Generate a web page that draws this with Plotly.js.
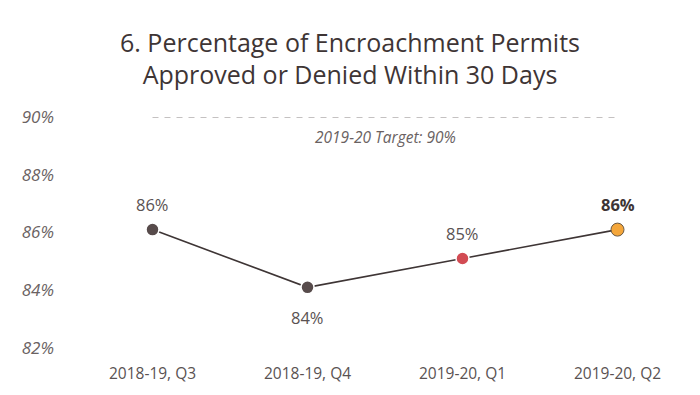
<!DOCTYPE html>
<html>
<head>
<meta charset="utf-8">
<script src="https://cdn.plot.ly/plotly-3.0.1.min.js"></script>
<style>html,body{margin:0;padding:0;background:#fff;}#chart{width:700px;height:395px;}</style>
</head>
<body>
<div id="chart"></div>
<script>
const quarters = ['2018-19, Q3', '2018-19, Q4', '2019-20, Q1', '2019-20, Q2'];
const percentApproved = [86.1, 84.1, 85.1, 86.1];
const targetValue = 90;
const targetLabel = '2019-20 Target: 90%';
const yTickValues = [82, 84, 86, 88, 90];
const yTickLabels = ['82%', '84%', '86%', '88%', '90%'];
const markerColors = ['#574b4b', '#574b4b', '#d24b53', '#f4a63a'];
const labelAbove = [true, false, true, true];

const FONT = '"Open Sans", "Noto Sans", sans-serif';

const traces = [
  {
    x: quarters,
    y: quarters.map(() => targetValue),
    type: 'scatter',
    mode: 'lines',
    line: {color: '#8a8484', width: 1, dash: '6px,6px'},
    hoverinfo: 'skip',
    showlegend: false
  },
  {
    x: quarters,
    y: percentApproved,
    type: 'scatter',
    mode: 'lines+markers',
    line: {color: '#3e3535', width: 1.6},
    marker: {
      size: 13,
      color: markerColors,
      line: {color: ['#ffffff', '#ffffff', '#ffffff', '#6b5a45'], width: [1.5, 1.5, 1.5, 1]}
    },
    cliponaxis: false,
    showlegend: false
  }
];

const dataLabels = percentApproved.map((v, i) => {
  const last = i === percentApproved.length - 1;
  const t = Math.round(v) + '%';
  return {
    x: quarters[i],
    y: v,
    xref: 'x',
    yref: 'y',
    text: last ? '<b>' + t + '</b>' : t,
    showarrow: false,
    yshift: labelAbove[i] ? 25 : -30,
    font: {family: FONT, size: 16.5, color: last ? '#3e3535' : '#5a5252'}
  };
});

const layout = {
  width: 700,
  height: 395,
  paper_bgcolor: '#ffffff',
  plot_bgcolor: '#ffffff',
  margin: {l: 75, r: 5, t: 117, b: 47},
  font: {family: FONT, color: '#5a5252'},
  title: {
    text: '6. Percentage of Encroachment Permits<br>Approved or Denied Within 30 Days',
    font: {family: FONT, size: 25, color: '#3e3535'},
    x: 0.5,
    xanchor: 'center',
    y: 0.869,
    yanchor: 'middle'
  },
  xaxis: {
    type: 'category',
    range: [-0.5, 3.5],
    showgrid: false,
    zeroline: false,
    showline: false,
    ticks: '',
    ticklabelstandoff: 14,
    tickfont: {family: FONT, size: 15.5, color: '#5a5252'}
  },
  yaxis: {
    range: [82, 90],
    tickvals: yTickValues,
    ticktext: yTickLabels,
    showgrid: false,
    zeroline: false,
    showline: false,
    ticks: '',
    ticklabelstandoff: 20,
    tickfont: {family: FONT, size: 17, color: '#6a6262', style: 'italic'}
  },
  annotations: [
    {
      x: 0.5,
      xref: 'paper',
      y: targetValue,
      yref: 'y',
      yshift: -20,
      text: '<i>' + targetLabel + '</i>',
      showarrow: false,
      font: {family: FONT, size: 15.5, color: '#6a6262'}
    }
  ].concat(dataLabels)
};

Plotly.newPlot('chart', traces, layout, {displayModeBar: false, staticPlot: true});
</script>
</body>
</html>
